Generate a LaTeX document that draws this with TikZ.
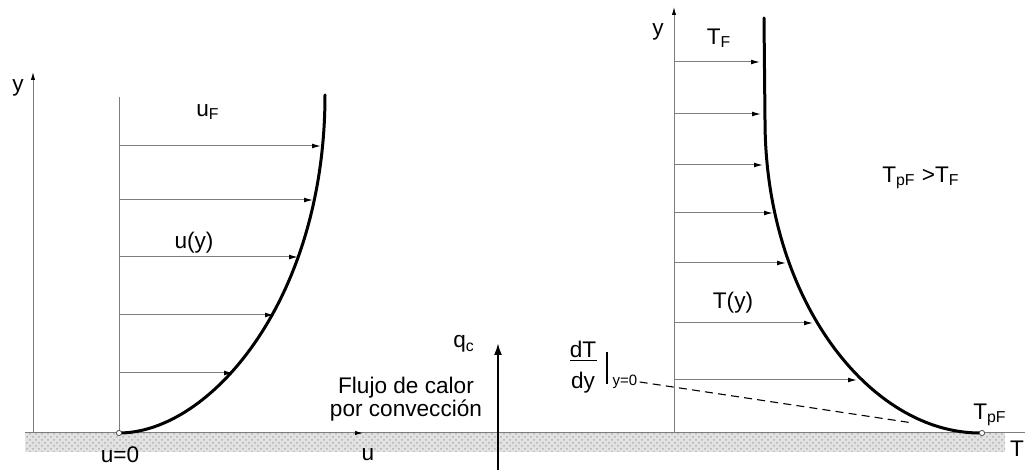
\documentclass[tikz,border=0pt]{standalone}
\usepackage{fontspec}
\setmainfont{Liberation Sans}
\usepackage{tikz}
\usetikzlibrary{arrows.meta, calc, patterns}
\definecolor{axisgray}{RGB}{125,125,125}
\definecolor{groundgray}{RGB}{226,226,226}
\tikzset{
  lab/.style={
    inner sep=1pt,
    font=\fontsize{11.3}{11.3}\selectfont
  },
  smalllab/.style={lab, font=\fontsize{7.5}{8}\selectfont},
  axis/.style={axisgray, line width=0.5pt, -{Latex[length=4pt,width=2.2pt,color=black]}},
  guide/.style={axisgray, line width=0.5pt},
  profarrow/.style={axisgray, line width=0.5pt, -{Latex[length=4.5pt,width=2.4pt,color=black]}},
  profile/.style={line width=1.5pt, line cap=round},
  wallpt/.style={circle, draw=black!70, fill=white, line width=0.4pt, inner sep=0pt, minimum size=2.6pt},
  heatarr/.style={line width=1pt, -{Latex[length=6pt,width=4pt]}},
  tangent/.style={line width=0.55pt, dash pattern=on 4pt off 2.6pt}
}

\begin{document}
\begin{tikzpicture}[x=0.5pt, y=-0.5pt]
\useasboundingbox (0,0) rectangle (1025,470);

% Wall
\fill[groundgray] (25,433) rectangle (1005,452);
\fill[pattern=crosshatch dots, pattern color=black!30] (25,433) rectangle (1005,452);
\draw[guide] (25,433) -- (1025,433);

% Left panel: velocity profile
\coordinate (oL) at (33,433);
\coordinate (wallL) at (119,433);
\draw[axis] (oL) -- (33,72);
\draw[axis] (oL) -- (363,433);
\draw[guide] (wallL) -- (119,97);
\foreach \yy/\xx in {146/321, 200/313, 257/298, 315/274, 373/233}
  \draw[profarrow] (119,\yy) -- (\xx,\yy);
\draw[profile] (wallL) .. controls (210,433) and (325,300) .. (325,95);
\node[wallpt] (u0pt) at (wallL) {};

\node[lab] (yL) at (18,88) {y};
\node[lab] (uF) at (208,112) {u\textsubscript{F}};
\node[lab] (uy) at (194,243) {u(y)};
\node[lab] (uzero) at (120,455) {u=0};
\node[lab] (uax) at (368,455) {u};

% Heat flux
\coordinate (qbot) at (498,470);
\node[lab] (qc) at (464,344) {q\textsubscript{c}};
\draw[heatarr] (qbot) -- (498,343);
\node[lab, align=center] (flujo) at (406,399) {Flujo de calor\\por convección};

% Right panel: temperature profile
\coordinate (oR) at (674,433);
\coordinate (wallR) at (982,433);
\draw[axis] (oR) -- (674,7);
\foreach \yy/\xx in {62/760, 114/761, 165/763, 213/773, 263/786, 323/813, 380/857}
  \draw[profarrow] (674,\yy) -- (\xx,\yy);
\draw[profile] (764,18) -- (765,120) .. controls (765,300) and (870,433) .. (980,433);
\node[wallpt] (TpFpt) at (wallR) {};

\node[lab] (yR) at (658,32) {y};
\node[lab] (TF) at (719,38) {T\textsubscript{F}};
\node[lab] (Ty) at (733,303) {T(y)};
\node[lab] (cond) at (921,178) {T\textsubscript{pF} >T\textsubscript{F}};
\node[lab] (TpF) at (990,415) {T\textsubscript{pF}};
\node[lab] (Tax) at (1017,449) {T};

% Wall gradient
\node[lab] (dT) at (583,349) {dT};
\node[lab] (dy) at (583,383) {dy};
\draw[line width=0.6pt] ($(dT.south)+(-13,1)$) -- ($(dT.south)+(14,1)$);
\draw[line width=0.6pt] (607,352) -- (607,384);
\node[smalllab] (yzero) at (625,382) {y=0};
\draw[tangent] (yzero.east) -- (913,423);

\end{tikzpicture}
\end{document}
